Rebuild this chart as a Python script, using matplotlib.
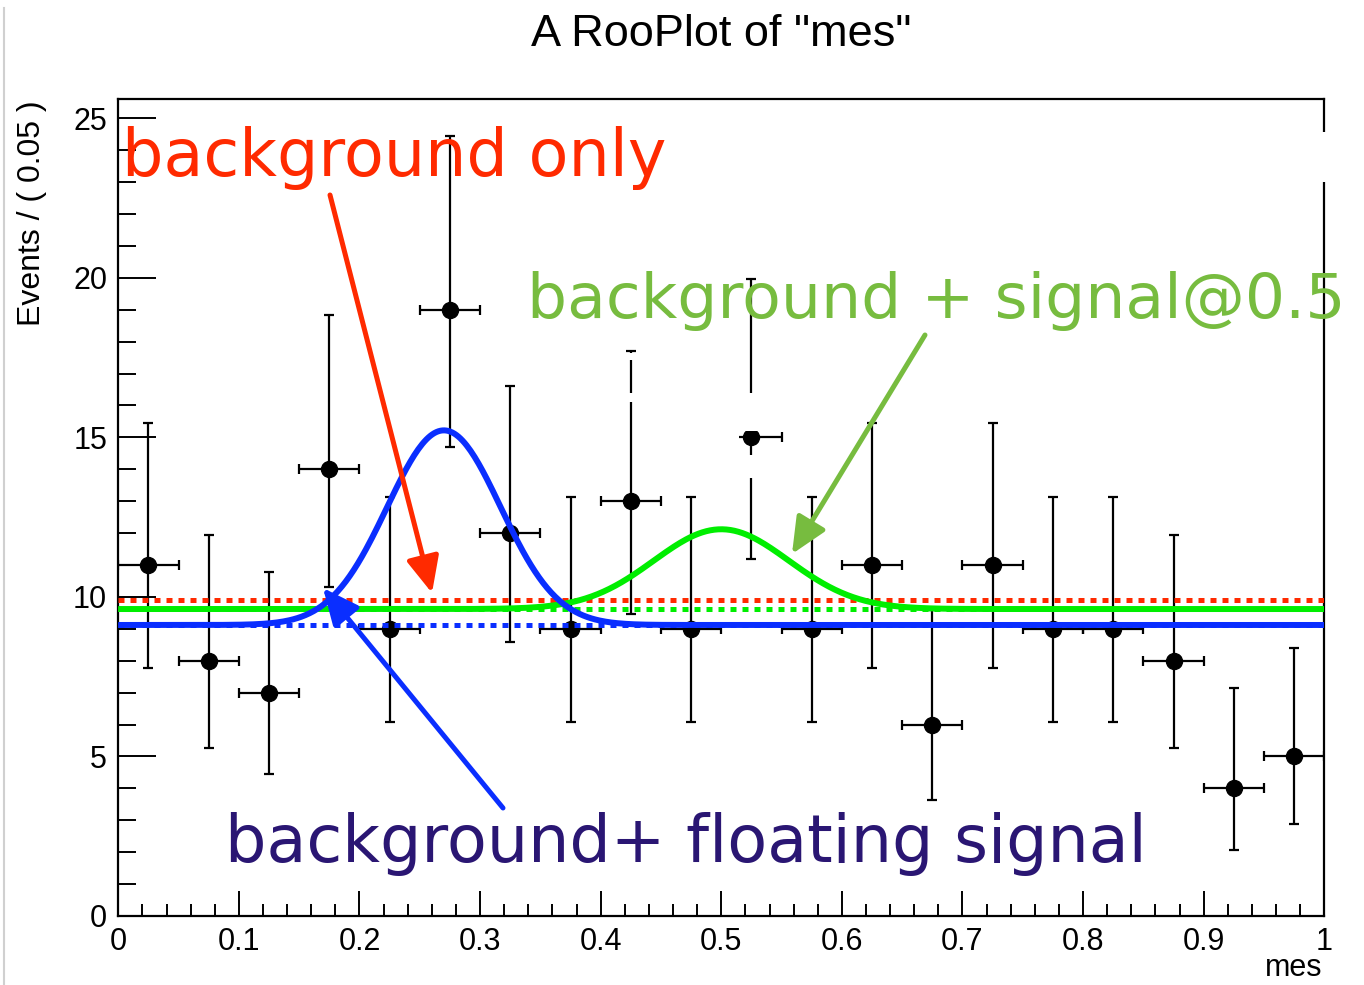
import matplotlib
matplotlib.use("Agg")
import matplotlib.pyplot as plt
import numpy as np
from matplotlib.lines import Line2D
from matplotlib.patches import Rectangle
from matplotlib.ticker import MultipleLocator

# binned "mes" data, bin width 0.05
bin_centers = [0.025, 0.075, 0.125, 0.175, 0.225, 0.275, 0.325, 0.375, 0.425, 0.475,
               0.525, 0.575, 0.625, 0.675, 0.725, 0.775, 0.825, 0.875, 0.925, 0.975]
counts = [11, 8, 7, 14, 9, 19, 12, 9, 13, 9, 15, 9, 11, 6, 11, 9, 9, 8, 4, 5]
# asymmetric (Poisson) error band edges per bin
err_low_edge = [7.78, 5.26, 4.45, 10.3, 6.09, 14.7, 8.6, 6.09, 9.47, 6.09,
                11.2, 6.09, 7.78, 3.64, 7.78, 6.09, 6.09, 5.26, 2.08, 2.89]
err_high_edge = [15.45, 11.93, 10.77, 18.85, 13.12, 24.45, 16.6, 13.12, 17.7, 13.12,
                 19.95, 13.12, 15.45, 9.58, 15.45, 13.12, 13.12, 11.93, 7.16, 8.4]
half_bin = 0.025

# fitted models
bkg_only_level = 9.9
sig05_bkg_level = 9.62
sig05_mean, sig05_sigma, sig05_amp = 0.50, 0.056, 2.5
float_bkg_level = 9.12
float_mean, float_sigma, float_amp = 0.27, 0.047, 6.1

RED = "#ff2a00"
GREEN_CURVE = "#00ee00"
BLUE = "#0a2eff"
GREEN_TEXT = "#77bc3f"
NAVY_TEXT = "#2a1673"

plt.rcParams["font.family"] = ["Liberation Sans", "DejaVu Sans"]

fig = plt.figure(figsize=(13.64, 9.85), dpi=100)
ax = fig.add_axes([0.0867, 0.0701, 0.8842, 0.8292])

x = np.linspace(0.0, 1.0, 600)
sig05_curve = sig05_bkg_level + sig05_amp * np.exp(-0.5 * ((x - sig05_mean) / sig05_sigma) ** 2)
float_curve = float_bkg_level + float_amp * np.exp(-0.5 * ((x - float_mean) / float_sigma) ** 2)

dot = (0, (1.2, 1.2))
ax.plot([0, 1], [bkg_only_level] * 2, color=RED, lw=3.6, ls=dot, zorder=3)
ax.plot([0, 1], [sig05_bkg_level] * 2, color=GREEN_CURVE, lw=3.6, ls=dot, zorder=3)
ax.plot(x, sig05_curve, color=GREEN_CURVE, lw=4.3, zorder=4, solid_capstyle="butt")
ax.plot([0, 1], [float_bkg_level] * 2, color=BLUE, lw=3.6, ls=dot, zorder=5)
ax.plot(x, float_curve, color=BLUE, lw=4.3, zorder=6, solid_capstyle="butt")

counts_arr = np.array(counts, dtype=float)
yerr = [counts_arr - np.array(err_low_edge), np.array(err_high_edge) - counts_arr]
ax.errorbar(bin_centers, counts, yerr=yerr, xerr=half_bin, fmt="o", color="black",
            ms=11.5, elinewidth=1.6, capsize=3.5, capthick=1.6, zorder=2)

ax.set_xlim(0, 1)
ax.set_ylim(0, 25.6)
ax.xaxis.set_minor_locator(MultipleLocator(0.02))
ax.yaxis.set_major_locator(MultipleLocator(5))
ax.yaxis.set_minor_locator(MultipleLocator(1))
ax.set_xticks([0, 0.1, 0.2, 0.3, 0.4, 0.5, 0.6, 0.7, 0.8, 0.9, 1.0])
ax.set_xticklabels(["0", "0.1", "0.2", "0.3", "0.4", "0.5", "0.6", "0.7", "0.8", "0.9", "1"])
ax.tick_params(axis="both", which="both", direction="in", top=False, right=False,
               width=1.4, labelsize=22, colors="black")
ax.tick_params(axis="y", which="major", length=27, pad=8)
ax.tick_params(axis="y", which="minor", length=13)
ax.tick_params(axis="x", which="major", length=18, pad=8)
ax.tick_params(axis="x", which="minor", length=8.5)
for spine in ax.spines.values():
    spine.set_linewidth(1.6)

ax.set_title('A RooPlot of "mes"', fontsize=32.5, pad=38)
fig.text(32 / 1364, 1 - 100 / 985, "Events / ( 0.05 )", rotation=90, fontsize=23,
         ha="center", va="top")
fig.text(1322 / 1364, 1 - 983 / 985, "mes", fontsize=22, ha="right", va="bottom")

# hand-written annotations
note_font = {"family": "DejaVu Sans"}
fig.text(122 / 1364, 1 - 176 / 985, "background only", color=RED, va="baseline",
         fontsize=47, **note_font)
fig.text(527 / 1364, 1 - 318 / 985, "background + signal@0.5", color=GREEN_TEXT,
         va="baseline", fontsize=45.5, **note_font)
fig.text(225 / 1364, 1 - 862 / 985, "background+ floating signal", color=NAVY_TEXT,
         va="baseline", fontsize=47, **note_font)


def arrow(tail, head, color):
    ax.annotate("", xy=(head[0], 985 - head[1]), xycoords="figure pixels",
                xytext=(tail[0], 985 - tail[1]), textcoords="figure pixels",
                arrowprops=dict(arrowstyle="-|>,head_length=1.1,head_width=0.5",
                                mutation_scale=20, color=color, lw=3.6,
                                shrinkA=0, shrinkB=0),
                annotation_clip=False, zorder=10)


arrow((330, 195), (432, 593), RED)
arrow((925, 335), (792, 554), GREEN_TEXT)
arrow((503, 808), (323, 588), BLUE)

# white erasures left over on the canvas (pixel boxes: x0, y0, x1, y1)
erased = [(735, 393, 760, 431), (714, 425, 739, 452), (741, 455, 760, 478),
          (626, 393, 636, 402), (626, 353, 636, 360), (1318, 132, 1332, 182)]
for x0, y0, x1, y1 in erased:
    fig.add_artist(Rectangle((x0 / 1364, 1 - y1 / 985), (x1 - x0) / 1364, (y1 - y0) / 985,
                             transform=fig.transFigure, facecolor="white",
                             edgecolor="none", zorder=20))

fig.add_artist(Line2D([4 / 1364, 4 / 1364], [0, 1 - 8 / 985], color="#d0d0d0", lw=1.5))

fig.savefig("out.png", dpi=100)
